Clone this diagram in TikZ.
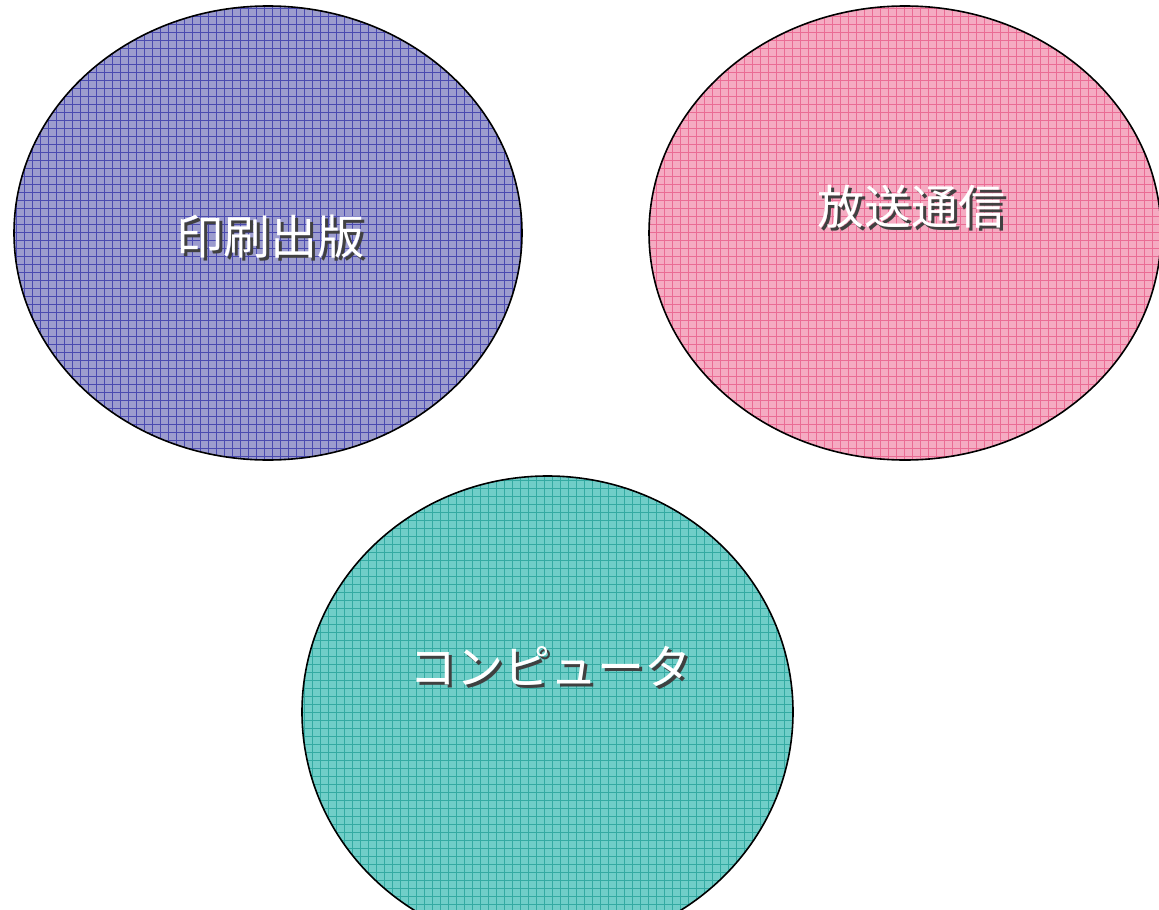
\documentclass[tikz,border=0pt]{standalone}
\usepackage{fontspec}
\newfontfamily\cjk{Noto Sans CJK JP}
\definecolor{bluefill}{HTML}{9C9CCE}
\definecolor{blueline}{HTML}{4A4AB0}
\definecolor{pinkfill}{HTML}{F5ABC2}
\definecolor{pinkline}{HTML}{EA6C94}
\definecolor{tealfill}{HTML}{70CEC8}
\definecolor{tealline}{HTML}{34AAA2}
\newcommand{\shadowtext}[1]{\makebox[0pt][l]{\hspace{3pt}\raisebox{-3pt}{\color{black!75}#1}}#1}
\tikzset{
  blob/.style={ellipse, draw=black, line width=1.6pt, inner sep=0pt},
  lbl/.style={font=\cjk\fontsize{47}{50}\selectfont, text=white, inner sep=0pt},
}
\usetikzlibrary{shapes.geometric}
\begin{document}
\begin{tikzpicture}[x=1pt,y=-1pt]
\useasboundingbox (0,0) rectangle (1159,910);
% ellipse 1
\begin{scope}
\clip (268,233) ellipse [x radius=254, y radius=227];
\fill[bluefill] (0,0) rectangle (1159,910);
\foreach \i in {0,8,...,1160} {\draw[blueline, line width=0.45pt] (\i,0) -- (\i,910);}
\foreach \i in {0,8,...,910} {\draw[blueline, line width=0.45pt] (0,\i) -- (1159,\i);}
\end{scope}
\node[blob, minimum width=508pt, minimum height=454pt] (print) at (268,233) {};
% ellipse 2
\begin{scope}
\clip (905,233) ellipse [x radius=256, y radius=227];
\fill[pinkfill] (0,0) rectangle (1159,910);
\foreach \i in {0,8,...,1160} {\draw[pinkline, line width=0.45pt] (\i,0) -- (\i,910);}
\foreach \i in {0,8,...,910} {\draw[pinkline, line width=0.45pt] (0,\i) -- (1159,\i);}
\end{scope}
\node[blob, minimum width=512pt, minimum height=454pt] (broad) at (905,233) {};
% ellipse 3
\begin{scope}
\clip (547.5,712) ellipse [x radius=245.5, y radius=236];
\fill[tealfill] (0,0) rectangle (1159,910);
\foreach \i in {0,8,...,1160} {\draw[tealline, line width=0.45pt] (\i,0) -- (\i,910);}
\foreach \i in {0,8,...,910} {\draw[tealline, line width=0.45pt] (0,\i) -- (1159,\i);}
\end{scope}
\node[blob, minimum width=491pt, minimum height=472pt] (comp) at (547.5,712) {};
% labels
\node[lbl] (printlbl) at (270,238) {\shadowtext{印刷出版}};
\node[lbl] (broadlbl) at (911,208) {\shadowtext{放送通信}};
\node[lbl] (complbl) at (550,668) {\shadowtext{コンピュータ}};
\end{tikzpicture}
\end{document}
